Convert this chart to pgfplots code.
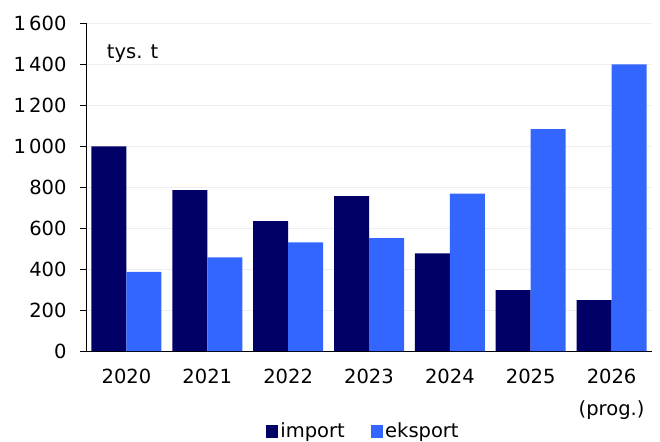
\documentclass[border=0pt]{standalone}
\usepackage{pgfplots}
\pgfplotsset{compat=1.18}
\usepackage{fontspec}
\setmainfont{DejaVu Sans}
\definecolor{imp}{HTML}{000066}
\definecolor{eks}{HTML}{3366FF}
\definecolor{gridc}{HTML}{EEEEEE}
\begin{document}
\begin{tikzpicture}[font=\fontsize{19.5bp}{32bp}\selectfont]
  \begin{axis}[
    at={(0,0)}, anchor=south west,
    scale only axis, width=566bp, height=327.5bp,
    ybar=0pt, bar width=35bp,
    xmin=-0.5, xmax=6.5, ymin=0, ymax=1600,
    xtick={0,...,6},
    xticklabels={2020,2021,2022,2023,2024,2025,{2026\\(prog.)}},
    ytick={0,200,...,1600},
    axis lines=left,
    axis line style={-, black, line width=0.9bp},
    x tick style={draw=none},
    y tick style={black, line width=0.9bp},
    tick align=outside, major tick length=6bp,
    ymajorgrids, grid style={gridc, line width=0.9bp},
    tick label style={font=\fontsize{19.5bp}{32bp}\selectfont},
    xticklabel style={align=center, yshift=-9bp},
    yticklabel style={xshift=-10bp},
    /pgf/number format/1000 sep={\,},
    /pgf/number format/assume math mode=true,
    legend style={draw=none, at={(0.49,-0.245)}, anchor=center,
      font=\fontsize{19.5bp}{32bp}\selectfont,
      /tikz/every even column/.append style={column sep=24bp}},
    legend columns=2,
    legend image code/.code={\fill[#1] (0bp,-6.5bp) rectangle (12.4bp,5.9bp);},
  ]
    \addplot[fill=imp, draw=none] coordinates {(0,1000) (1,786) (2,634) (3,757) (4,477) (5,298) (6,249)};
    \addplot[fill=eks, draw=none] coordinates {(0,387) (1,458) (2,531) (3,552) (4,769) (5,1084) (6,1400)};
    \legend{import, eksport}
    \node[anchor=base west, inner sep=0pt] at (rel axis cs:0.0366,0.8937) {tys. t};
  \end{axis}
  \pgfresetboundingbox
  \useasboundingbox (-86bp,-91bp) rectangle (574bp,351bp);
\end{tikzpicture}
\end{document}
